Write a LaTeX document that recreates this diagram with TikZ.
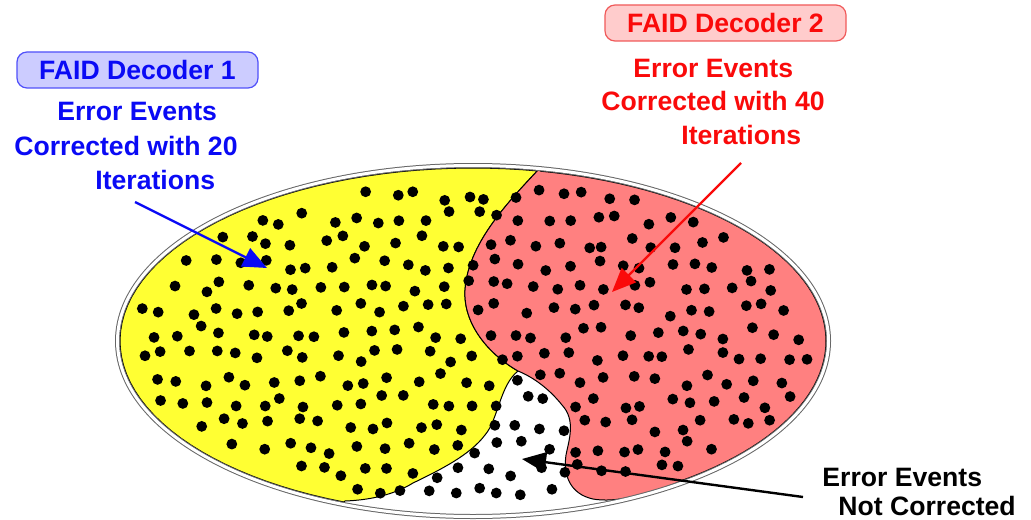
\documentclass[tikz,border=0pt]{standalone}
\usepackage{fontspec}
\setmainfont{Liberation Sans}
\usetikzlibrary{arrows.meta}
\definecolor{tblue}{RGB}{10,10,245}
\definecolor{bfill}{RGB}{204,204,255}
\definecolor{bdraw}{RGB}{80,80,250}
\definecolor{tred}{RGB}{250,10,10}
\definecolor{rfill}{RGB}{255,204,204}
\definecolor{rdraw}{RGB}{240,90,90}
\definecolor{yreg}{RGB}{255,255,51}
\definecolor{rreg}{RGB}{255,128,128}
\begin{document}
\begin{tikzpicture}[x=0.5pt,y=-0.5pt,
  lbl/.style={font=\fontsize{13.3}{16}\selectfont\bfseries, inner sep=0pt, anchor=base west},
  titlebox/.style={rounded corners=5pt, line width=0.6pt, minimum width=120.5pt, minimum height=18pt, inner sep=0pt, font=\fontsize{13.3}{16}\selectfont\bfseries},
  pointer/.style={line width=1.2pt, -{Triangle[length=12pt,width=10pt]}},
  region/.style={draw=black, line width=0.5pt},
  rim/.style={draw=gray!80!black, line width=0.5pt, double=white, double distance=1.5pt},
  dot/.style={fill=black}]
\useasboundingbox (0,0) rectangle (1031,519);
\fill[white] (0,0) rectangle (1031,519);

% yellow region
\path[region, fill=yreg] (540,168)
  .. controls (505,205) and (468,245) .. (465,290)
  .. controls (463,325) and (490,355) .. (518,371)
  .. controls (500,385) and (498,420) .. (485,435)
  .. controls (470,455) and (440,470) .. (413,483)
  .. controls (395,494) and (372,500) .. (345,501)
  -- plot[domain=111.5:281, samples=60, variable=\t] ({473+353*cos(\t)},{341+173*sin(\t)})
  -- cycle;
% red region
\path[region, fill=rreg] (540,168)
  -- plot[domain=281:413.5, samples=60, variable=\t] ({473+353*cos(\t)},{341+173*sin(\t)})
  .. controls (650,495) and (615,503) .. (593,499)
  .. controls (570,494) and (563,475) .. (566,455)
  .. controls (569,440) and (576,420) .. (562,405)
  .. controls (550,390) and (535,378) .. (518,371)
  .. controls (490,355) and (463,325) .. (465,290)
  .. controls (468,245) and (505,205) .. (540,168)
  -- cycle;
% rim of the whole set
\draw[rim] (473,341) ellipse[x radius=177.75pt, y radius=87.75pt];

% dots
\pgfmathsetseed{21}
\foreach \j in {0,...,15}{
  \foreach \i in {0,...,30}{
    \pgfmathsetmacro\px{116+\i*24+mod(\j,2)*12+7*rand}
    \pgfmathsetmacro\py{172+\j*23+7*rand}
    \pgfmathtruncatemacro\inside{(((\px-473)/342)^2+((\py-341)/162)^2)<1 ? 1 : 0}
    \ifnum\inside=1 \fill[dot] (\px,\py) circle[radius=2.7pt]; \fi
  }
}

% titles
\node[titlebox, draw=bdraw, fill=bfill, text=tblue] (t1) at (137.5,70) {FAID Decoder 1};
\node[titlebox, draw=rdraw, fill=rfill, text=tred] (t2) at (725.5,23) {FAID Decoder 2};

% blue text
\node[lbl, text=tblue] (b1) at (57,120) {Error Events};
\node[lbl, text=tblue] (b2) at (14,155) {Corrected with 20};
\node[lbl, text=tblue] (b3) at (95,189) {Iterations};
% red text
\node[lbl, text=tred] (r1) at (633,77) {Error Events};
\node[lbl, text=tred] (r2) at (601,111) {Corrected with 40};
\node[lbl, text=tred] (r3) at (681,144) {Iterations};
% black text
\node[lbl] (k1) at (822,486) {Error Events};
\node[lbl] (k2) at (838,515) {Not Corrected};

% arrows
\coordinate (bs) at (135,202);
\coordinate (be) at (267,268);
\coordinate (rs) at (741,163);
\coordinate (re) at (612,292);
\coordinate (ks) at (803,497);
\coordinate (ke) at (522,459);
\draw[pointer, draw=tblue, fill=tblue] (bs) -- (be);
\draw[pointer, draw=tred, fill=tred] (rs) -- (re);
\draw[pointer, draw=black, fill=black] (ks) -- (ke);
\end{tikzpicture}
\end{document}
